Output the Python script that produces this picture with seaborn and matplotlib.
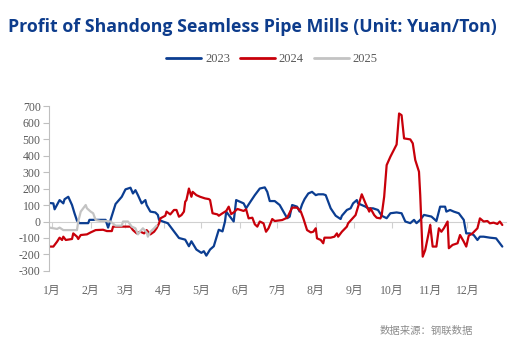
import numpy as np
import pandas as pd
import matplotlib
matplotlib.use("Agg")
import matplotlib.pyplot as plt
import seaborn as sns

# ---- data (day of year, profit in Yuan/Ton) ----
days_2023 = [-2, 1, 2, 6, 9, 10, 13, 16, 18, 20, 22, 29, 30, 43, 45, 47, 51, 56, 59, 63, 65, 67, 69, 72,
             75, 76, 79, 83, 85, 86, 89, 93, 97, 102, 107, 110, 112, 116, 120, 122, 124, 127, 130, 134,
             137, 139, 140, 146, 148, 154, 156, 159, 163, 167, 171, 173, 175, 179, 183, 186, 189, 191,
             193, 197, 199, 201, 203, 206, 209, 212, 214, 218, 220, 224, 228, 232, 233, 237, 240, 242,
             245, 246, 249, 252, 254, 258, 262, 265, 269, 272, 277, 281, 284, 288, 291, 293, 296, 299,
             305, 309, 312, 316, 317, 320, 323, 327, 331, 333, 336, 339, 342, 344, 347, 352, 357, 362]
vals_2023 = [112, 110, 74, 130, 110, 135, 150, 100, 50, 5, -10, -10, 10, 10, -37, 10, 106, 150, 195, 205,
             170, 190, 160, 110, 130, 100, 60, 55, 40, 10, 0, -10, -50, -100, -110, -150, -120, -170,
             -190, -180, -207, -170, -150, -50, -60, 0, 60, 0, 130, 110, 80, 115, 160, 200, 207, 180,
             124, 124, 100, 60, 20, 29, 100, 90, 60, 104, 136, 170, 180, 160, 165, 165, 160, 80, 35, 15,
             35, 70, 80, 110, 130, 110, 100, 90, 80, 80, 70, 35, 20, 50, 55, 50, 0, -10, 10, -10, 10,
             40, 30, 3, 90, 90, 60, 70, 60, 50, 10, -72, -72, -82, -112, -92, -92, -98, -102, -152]

days_2024 = [-2, 1, 4, 6, 8, 9, 11, 16, 17, 20, 21, 23, 28, 31, 35, 41, 44, 48, 49, 57, 63, 65, 68, 71,
             74, 76, 79, 82, 84, 86, 87, 91, 92, 95, 98, 100, 102, 104, 106, 107, 108, 110, 112, 113,
             116, 119, 123, 126, 127, 129, 133, 134, 137, 140, 142, 144, 146, 149, 154, 156, 158, 161,
             163, 165, 167, 170, 172, 174, 177, 179, 185, 189, 193, 197, 200, 202, 205, 208, 210, 212,
             213, 216, 218, 219, 224, 227, 229, 230, 233, 237, 238, 244, 245, 249, 252, 255, 256, 259,
             261, 264, 265, 267, 269, 272, 277, 279, 281, 283, 288, 290, 292, 295, 296, 298, 300, 303,
             304, 306, 309, 311, 313, 315, 318, 319, 322, 326, 328, 331, 333, 335, 338, 342, 344, 347,
             350, 352, 355, 358, 360, 362]
vals_2024 = [-152, -152, -122, -98, -112, -92, -112, -106, -72, -92, -106, -82, -78, -66, -52, -50, -58,
             -58, -31, -31, -31, -52, -72, -62, -72, -52, -78, -62, -41, -11, 19, 35, 60, 43, 70, 70, 29,
             39, 60, 120, 130, 200, 150, 180, 160, 150, 140, 136, 130, 50, 43, 35, 50, 64, 90, 45, 55,
             76, 64, 74, 19, 23, -17, -31, 0, -11, -62, -41, 15, 3, 9, 23, 84, 84, 60, 19, -52, -66, -62,
             -41, -102, -112, -132, -98, -98, -92, -72, -92, -62, -31, -11, 39, 64, 165, 110, 60, 80, 39,
             23, 19, 39, 150, 342, 393, 467, 655, 645, 504, 498, 474, 373, 302, 160, -213, -173, -62, -21,
             -152, -152, -41, -62, -41, 0, -162, -142, -132, -82, -122, -152, -86, -72, -41, 19, 0, 3,
             -11, -7, -15, 0, -21]

days_2025 = [-2, 1, 4, 6, 9, 12, 20, 21, 23, 25, 27, 28, 31, 33, 35, 39, 43, 47, 51, 56, 57, 61, 64,
             67, 69, 71, 73, 76, 77, 79, 82, 84]
vals_2025 = [-37, -41, -45, -37, -52, -52, -52, 0, 60, 80, 100, 80, 60, 50, 9, 3, 3, 0, -25, -25, 0, 0,
             -31, -41, -78, -58, -41, -66, -92, -62, -41, -25]

years = ["2023", "2024", "2025"]
colors = ["#0B3D91", "#C8000A", "#C3C3C3"]
month_starts = [0, 31, 59, 90, 120, 151, 181, 212, 243, 273, 304, 334]
month_labels = [f"{i}月" for i in range(1, 13)]
y_ticks = list(range(-300, 701, 100))

df = pd.concat([
    pd.DataFrame({"day": days_2023, "profit": vals_2023, "year": "2023"}),
    pd.DataFrame({"day": days_2024, "profit": vals_2024, "year": "2024"}),
    pd.DataFrame({"day": days_2025, "profit": vals_2025, "year": "2025"}),
])

sns.set_style("white")
plt.rcParams["font.family"] = ["Liberation Serif", "Noto Sans CJK SC", "DejaVu Sans"]

fig = plt.figure(figsize=(5.17, 3.40), dpi=100)
ax = fig.add_axes([0.0948, 0.203, 0.884, 0.485])

sns.lineplot(data=df, x="day", y="profit", hue="year", hue_order=years,
             palette=dict(zip(years, colors)), linewidth=1.6, ax=ax, legend=False,
             estimator=None, sort=False)

ax.set_xlim(-2.5, 365)
ax.set_ylim(-300, 700)
ax.set_yticks(y_ticks)
ax.set_yticklabels([str(v) for v in y_ticks], fontsize=8.5, color="#595959")
ax.set_xlabel("")
ax.set_ylabel("")

for s in ["top", "right"]:
    ax.spines[s].set_visible(False)
ax.spines["left"].set_color("#BFBFBF")
ax.spines["left"].set_linewidth(0.8)
ax.spines["bottom"].set_position(("data", 0))
ax.spines["bottom"].set_color("#D0D0D0")
ax.spines["bottom"].set_linewidth(0.8)
ax.spines["bottom"].set_zorder(0)
ax.tick_params(axis="y", direction="out", length=4, width=0.8, color="#BFBFBF", pad=2, left=True)
ax.set_xticks(month_starts)
ax.tick_params(axis="x", direction="out", length=4, width=0.8, color="#D0D0D0", labelbottom=False, bottom=True)

sec = ax.secondary_xaxis("bottom")
sec.set_xticks(month_starts)
sec.set_xticklabels(month_labels, fontsize=8.5, color="#666666")
sec.tick_params(length=0, pad=10)
sec.spines["bottom"].set_visible(False)

# title
fig.text(8 / 517, 1 - 27 / 340, "Profit of Shandong Seamless Pipe Mills (Unit: Yuan/Ton)",
         fontsize=12.8, fontweight="bold", color="#0D3C8C", family=["Open Sans", "DejaVu Sans"],
         ha="left", va="center")

# legend
from matplotlib.lines import Line2D
handles = [Line2D([0], [0], color=c, lw=2) for c in colors]
fig.legend(handles, years, loc="center", bbox_to_anchor=(272 / 517, 1 - 59 / 340), ncol=3,
           frameon=False, fontsize=9, labelcolor="#595959", handlelength=2.8,
           handletextpad=0.3, columnspacing=0.8)

# source note
fig.text(473 / 517, 1 - 331 / 340, "数据来源：钢联数据", fontsize=7.5, color="#8C8C8C",
         family=["Noto Sans CJK SC"], ha="right", va="center")

fig.savefig("out.png", dpi=100)
